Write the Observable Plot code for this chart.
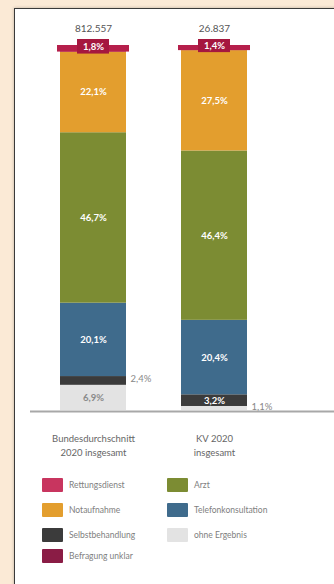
<!DOCTYPE html>
<html><head><meta charset="utf-8">
<script src="https://cdn.jsdelivr.net/npm/d3@7"></script>
<script src="https://cdn.jsdelivr.net/npm/@observablehq/plot@0.6"></script>
<style>
body{margin:0;width:334px;height:584px;background:#fbead6;overflow:hidden;position:relative;font-family:Lato,"Open Sans",sans-serif;}
#panel{position:absolute;left:14px;top:8px;width:330px;height:600px;background:#fff;border-left:1.5px solid #3a3a3a;border-top:1.5px solid #3a3a3a;box-shadow:0 0 3px rgba(0,0,0,0.25);}
#chart{position:absolute;left:0;top:0;}
.lg{position:absolute;display:flex;align-items:center;font-size:8.5px;color:#808080;white-space:nowrap;}
.sw{width:21px;height:14px;margin-right:6px;border-radius:1px;}
</style></head>
<body>
<div id="panel"></div>
<div id="chart"></div>
<div id="legend"></div>
<script>
const categories = ["Bundesdurchschnitt 2020 insgesamt", "KV 2020 insgesamt"];
const axisLabels = ["Bundesdurchschnitt\n2020 insgesamt", "KV 2020\ninsgesamt"];
const totals = ["812.557", "26.837"];
const series = ["ohne Ergebnis", "Selbstbehandlung", "Telefonkonsultation", "Arzt", "Notaufnahme", "Rettungsdienst"];
const valuesBund = [6.9, 2.4, 20.1, 46.7, 22.1, 1.8];
const valuesKV = [1.1, 3.2, 20.4, 46.4, 27.5, 1.4];
const seriesColors = ["#e3e3e3", "#3b3b3b", "#3f6b8c", "#7c8c33", "#e39e2e", "#b51f4b"];
const legendNames = ["Rettungsdienst", "Arzt", "Notaufnahme", "Telefonkonsultation", "Selbstbehandlung", "ohne Ergebnis", "Befragung unklar"];
const legendColors = ["#c8355f", "#7c8c33", "#e39e2e", "#3f6b8c", "#3b3b3b", "#e3e3e3", "#8a1c45"];

const rows = [];
[valuesBund, valuesKV].forEach((vals, i) => {
  vals.forEach((v, j) => rows.push({cat: categories[i], series: series[j], value: v}));
});
const tops = rows.filter(d => d.series === "Rettungsdienst");
const fmt = v => String(v).replace(".", ",") + "%";
const isTop = d => d.series === "Rettungsdienst";
const isOut = d => !isTop(d) && d.value < 3;

const chart = Plot.plot({
  width: 334, height: 470,
  marginLeft: 30, marginRight: 0, marginTop: 45, marginBottom: 60,
  style: {background: "transparent", fontFamily: "Lato, sans-serif", overflow: "visible"},
  x: {type: "band", domain: categories, range: [60, 247], paddingInner: 0.455, paddingOuter: 0, axis: null},
  y: {domain: [0, 100], range: [410, 45], axis: null},
  color: {domain: series, range: seriesColors},
  marks: [
    Plot.barY(rows, Plot.stackY({x: "cat", y: "value", fill: "series", order: null})),
    Plot.barY(tops, {x: "cat", y1: d => 100 - d.value, y2: 100, fill: "#b51f4b", insetLeft: -3, insetRight: -3}),
    Plot.barY(tops, {x: "cat", y1: d => 100 - d.value, y2: 100, fill: "#a5173f", insetLeft: 17, insetRight: 17, insetTop: -6, insetBottom: -2}),
    Plot.ruleY([0], {stroke: "#a8a8a8", strokeWidth: 2, dy: 1}),
    Plot.text(rows, Plot.stackY({x: "cat", y: "value", order: null,
      text: d => (isTop(d) || isOut(d)) ? "" : fmt(d.value),
      fill: d => d.series === "ohne Ergebnis" ? "#8a8a8a" : "#ffffff",
      fontSize: 9.5, fontWeight: "bold"})),
    Plot.text(rows, Plot.stackY({x: "cat", y: "value", order: null,
      text: d => isOut(d) ? fmt(d.value) : "",
      dx: 37, dy: -2, textAnchor: "start", fill: "#888", fontSize: 9.5})),
    Plot.text(rows, Plot.stackY({x: "cat", y: "value", order: null,
      text: d => isTop(d) ? fmt(d.value) : "",
      dy: -2, fill: "#fff", fontSize: 9.5, fontWeight: "bold"})),
    Plot.text(categories, {x: d => d, y: 100, text: (d, i) => totals[i], dy: -17, fill: "#555", fontSize: 10}),
    Plot.text(categories, {x: d => d, y: 0, text: (d, i) => axisLabels[i], dy: 34, fill: "#666", fontSize: 9.5, lineHeight: 1.5})
  ]
});
document.getElementById("chart").appendChild(chart);

const pos = [[42, 478], [167, 478], [42, 503], [167, 503], [42, 528], [167, 528], [42, 549]];
const lg = document.getElementById("legend");
legendNames.forEach((n, i) => {
  const el = document.createElement("div");
  el.className = "lg";
  el.style.left = pos[i][0] + "px";
  el.style.top = pos[i][1] + "px";
  el.innerHTML = `<div class="sw" style="background:${legendColors[i]}"></div><span>${n}</span>`;
  lg.appendChild(el);
});
</script>
</body></html>
